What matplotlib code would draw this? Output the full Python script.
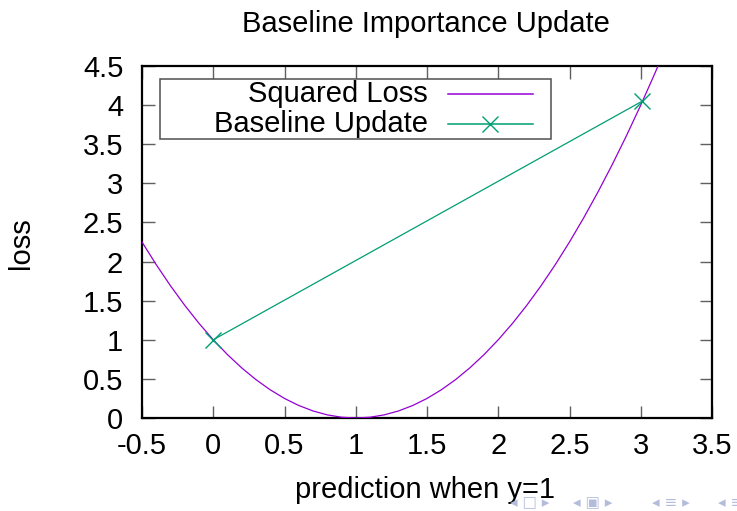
import matplotlib
matplotlib.use("Agg")
import matplotlib.pyplot as plt
from matplotlib.patches import Rectangle
from matplotlib.lines import Line2D

plt.rcParams['font.family'] = ['Liberation Sans', 'DejaVu Sans']

# Squared loss curve
loss_x = [-0.5, -0.4, -0.3, -0.2, -0.1, 0.0, 0.1, 0.2, 0.3, 0.4, 0.5, 0.6, 0.7, 0.8,
          0.9, 1.0, 1.1, 1.2, 1.3, 1.4, 1.5, 1.6, 1.7, 1.8, 1.9, 2.0, 2.1, 2.2,
          2.3, 2.4, 2.5, 2.6, 2.7, 2.8, 2.9, 3.0, 3.1, 3.2]
loss_y = [2.25, 1.96, 1.69, 1.44, 1.21, 1.00, 0.81, 0.64, 0.49, 0.36, 0.25, 0.16, 0.09, 0.04,
          0.01, 0.00, 0.01, 0.04, 0.09, 0.16, 0.25, 0.36, 0.49, 0.64, 0.81, 1.00, 1.21, 1.44,
          1.69, 1.96, 2.25, 2.56, 2.89, 3.24, 3.61, 4.00, 4.41, 4.84]

# Baseline update points
update_x = [0.0, 3.01]
update_y = [1.0, 4.05]

x_ticks = [-0.5, 0, 0.5, 1, 1.5, 2, 2.5, 3, 3.5]
x_tick_labels = ['-0.5', '0', '0.5', '1', '1.5', '2', '2.5', '3', '3.5']
y_ticks = [0, 0.5, 1, 1.5, 2, 2.5, 3, 3.5, 4, 4.5]
y_tick_labels = ['0', '0.5', '1', '1.5', '2', '2.5', '3', '3.5', '4', '4.5']

series_labels = ['Squared Loss', 'Baseline Update']
title = 'Baseline Importance Update'
xlabel = 'prediction when y=1'
ylabel = 'loss'
nav_symbols = ['◂ □ ▸', '◂ ▣ ▸', '◂ ≡ ▸', '◂ ≡']

purple = '#9400d3'
green = '#009e73'
FS = 21

W, H = 737, 511
fig = plt.figure(figsize=(W / 100, H / 100), dpi=100)
L, R, T, B = 142, 712, 66, 418
ax = fig.add_axes([L / W, 1 - B / H, (R - L) / W, (B - T) / H])

ax.plot(loss_x, loss_y, color=purple, lw=0.9, zorder=3)
ax.plot(update_x, update_y, color=green, lw=0.9, marker='x', markersize=11,
        markeredgewidth=1.0, zorder=4)

ax.set_xlim(-0.5, 3.5)
ax.set_ylim(0, 4.5)
ax.set_xticks(x_ticks)
ax.set_xticklabels(x_tick_labels)
ax.set_yticks(y_ticks)
ax.set_yticklabels(y_tick_labels)
ax.tick_params(direction='in', length=9, width=1.0, color='#606060',
               top=True, right=True, labelsize=FS)
ax.tick_params(axis='y', pad=13.5)
ax.tick_params(axis='x', pad=10)
for s in ax.spines.values():
    s.set_linewidth(1.6)
    s.set_color('black')

# gnuplot-style legend (text right-aligned, sample on the right)
to_ax = lambda px, py: ((px - L) / (R - L), (B - py) / (B - T))
bx0, by0 = to_ax(160, 139)
bx1, by1 = to_ax(551, 79)
ax.add_patch(Rectangle((bx0, by0), bx1 - bx0, by1 - by0, transform=ax.transAxes,
                       fill=True, facecolor='white', edgecolor='#505050', lw=1.1,
                       zorder=5))
rows = [(94, purple, None), (124, green, 'x')]
for (py, col, mk), lab in zip(rows, series_labels):
    tx, ty = to_ax(428, py)
    ax.text(tx, ty, lab, transform=ax.transAxes, ha='right', va='center',
            fontsize=FS, zorder=6)
    lx0, ly = to_ax(448, py)
    lx1, _ = to_ax(533, py)
    ax.add_line(Line2D([lx0, lx1], [ly, ly], transform=ax.transAxes, color=col,
                       lw=1.1, zorder=6))
    if mk:
        mx, _ = to_ax(490, py)
        ax.add_line(Line2D([mx], [ly], transform=ax.transAxes, color=col,
                           marker=mk, markersize=11, markeredgewidth=1.0,
                           linestyle='none', zorder=6))

fig.text(426 / W, 1 - 32 / H, title, ha='center', va='baseline', fontsize=FS)
fig.text(425 / W, 1 - 498 / H, xlabel, ha='center', va='baseline', fontsize=FS)
fig.text(21 / W, 1 - 243 / H, ylabel, ha='center', va='center', rotation=90,
         fontsize=FS)

# beamer navigation symbols (faint)
for xp, sym in zip([510, 573, 652, 718], nav_symbols):
    fig.text(xp / W, 1 - 510 / H, sym, ha='left', va='bottom', fontsize=11,
             color='#b4bcdc', family=['DejaVu Sans'])

fig.savefig('out.png', dpi=100)
